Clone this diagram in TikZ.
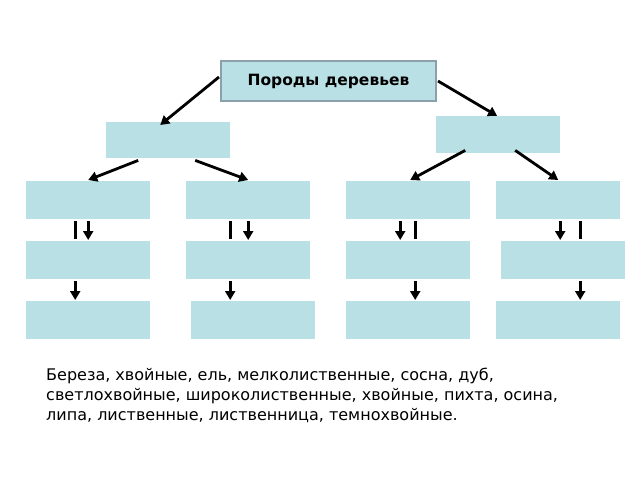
\documentclass[tikz,border=0pt]{standalone}
\usepackage{fontspec}
\setmainfont{DejaVu Sans}
\usetikzlibrary{arrows.meta,calc}
\definecolor{bx}{HTML}{B9E0E4}
\begin{document}
\begin{tikzpicture}[x=1pt,y=-1pt,
  box/.style={fill=bx,draw=none,minimum width=124pt,minimum height=38pt,inner sep=0pt,anchor=north west},
  arr/.style={line width=2.8pt,-{Triangle[length=9pt,width=10pt]}},
  ln/.style={line width=2.8pt}]
\useasboundingbox (0,0) rectangle (640,480);
\node[box,draw={rgb,255:red,140;green,160;blue,170},line width=2pt,minimum width=215pt,minimum height=40pt] (top) at (220,60) {\fontsize{15.5pt}{18pt}\selectfont\bfseries Породы деревьев};
\node[box,minimum height=36pt] (lm) at (106,122) {};
\node[box,minimum height=37pt] (rm) at (436,116) {};
\foreach \n/\x in {a/26,b/186,c/346,d/496} \node[box] (r1\n) at (\x,181) {};
\foreach \n/\x in {a/26,b/186,c/346,d/501} \node[box] (r2\n) at (\x,241) {};
\foreach \n/\x in {a/26,b/191,c/346,d/496} \node[box] (r3\n) at (\x,301) {};
\draw[arr] ($(top.west)+(-1,-4)$) -- ($(lm.north)+(-8,3)$);
\draw[arr] ($(top.east)+(1,0)$) -- ($(rm.north)+(-1,0)$);
\draw[arr] ($(lm.south)+(-30,2)$) -- ($(r1a.north)+(0,-1)$);
\draw[arr] ($(lm.south)+(27,2)$) -- ($(r1b.north)+(0,-1)$);
\draw[arr] ($(rm.south)+(-33,-3)$) -- ($(r1c.north)+(2,-1)$);
\draw[arr] ($(rm.south)+(17,-3)$) -- ($(r1d.north)+(0,-1)$);
\draw[ln] ($(r1a.south)+(-13,2)$) -- ($(r2a.north)+(-13,-2)$);
\draw[arr] ($(r1a.south)+(0,2)$) -- ($(r2a.north)+(0,-1)$);
\draw[ln] ($(r1b.south)+(-18,2)$) -- ($(r2b.north)+(-18,-2)$);
\draw[arr] ($(r1b.south)+(0,2)$) -- ($(r2b.north)+(0,-1)$);
\draw[arr] ($(r1c.south)+(-8,2)$) -- ($(r2c.north)+(-8,-1)$);
\draw[ln] ($(r1c.south)+(7,2)$) -- ($(r2c.north)+(7,-2)$);
\draw[arr] ($(r1d.south)+(2,2)$) -- ($(r2d.north)+(-3,-1)$);
\draw[ln] ($(r1d.south)+(22,2)$) -- ($(r2d.north)+(17,-2)$);
\draw[arr] ($(r2a.south)+(-13,2)$) -- ($(r3a.north)+(-13,-1)$);
\draw[arr] ($(r2b.south)+(-18,2)$) -- ($(r3b.north)+(-23,-1)$);
\draw[arr] ($(r2c.south)+(7,2)$) -- ($(r3c.north)+(7,-1)$);
\draw[arr] ($(r2d.south)+(17,2)$) -- ($(r3d.north)+(22,-1)$);
\node[anchor=north west,align=left,inner sep=0pt,font=\fontsize{16pt}{20pt}\selectfont] (txt) at (46,368) {Береза, хвойные, ель, мелколиственные, сосна, дуб,\\светлохвойные, широколиственные, хвойные, пихта, осина,\\липа, лиственные, лиственница, темнохвойные.};
\end{tikzpicture}
\end{document}
